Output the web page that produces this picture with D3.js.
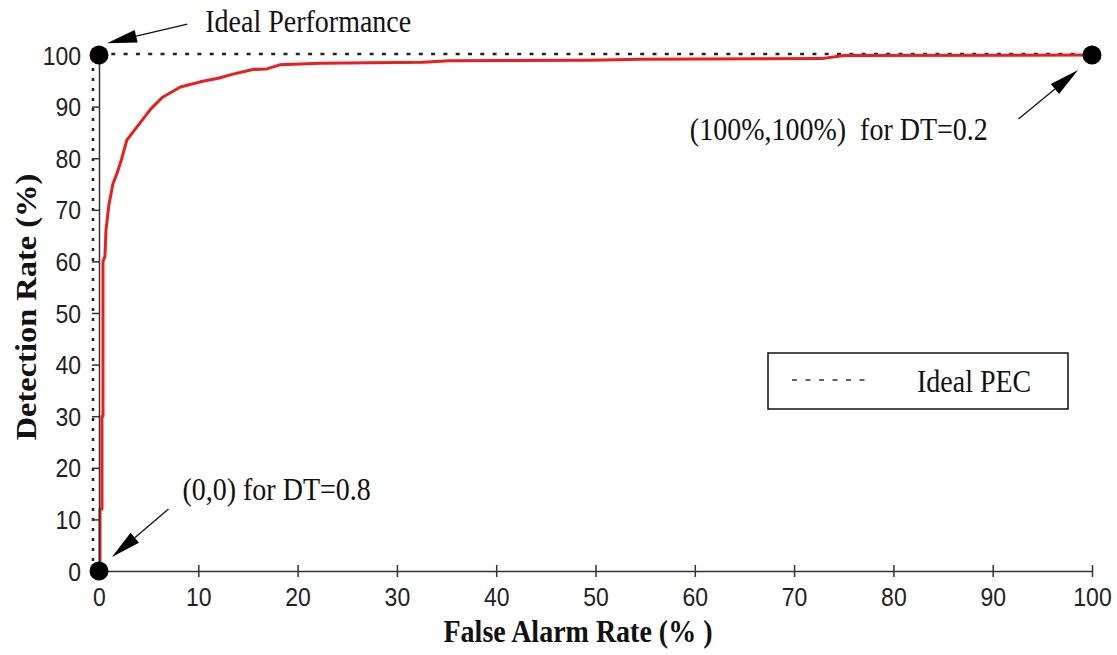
<!DOCTYPE html>
<html>
<head>
<meta charset="utf-8">
<script src="https://cdn.jsdelivr.net/npm/d3@7"></script>
<style>
body { margin: 0; background: #fff; }
</style>
</head>
<body>
<div id="canvas"></div>
<script>
"use strict"

// DATA

let falseAlarm = [0, 0.1, 0.1, 0.3, 0.3, 0.4, 0.4, 0.6, 0.7, 1.0, 1.4, 1.8, 2.3, 2.8, 4.0, 5.2, 6.4, 8.2, 10.2, 12, 13.5, 15.5, 16.9, 18.2, 22.3, 32.6, 35.3, 49.5, 54.5, 72.8, 75, 100];
let detection  = [0, 1, 12, 12, 30, 30, 60, 61, 66, 71, 75, 77, 80, 83.5, 86.5, 89.5, 91.8, 93.8, 94.8, 95.5, 96.3, 97.2, 97.3, 98.1, 98.4, 98.6, 98.9, 99.0, 99.2, 99.3, 99.9, 100];

let idealX = [0, 0, 100];
let idealY = [0, 100, 100];

let pointX = [0, 0, 100];
let pointY = [0, 100, 100];

let xTicks = [0, 10, 20, 30, 40, 50, 60, 70, 80, 90, 100];
let yTicks = [0, 10, 20, 30, 40, 50, 60, 70, 80, 90, 100];

let noteText = ["Ideal Performance", "(100%,100%)  for DT=0.2", "(0,0) for DT=0.8"];
// text anchor and arrow (from -> tip), in data units
let noteAt   = [[10.7, 104.5], [59.5, 83.5], [8.4, 13.8]];
let noteFrom = [[8.9, 106.0], [92.6, 87.6], [7.0, 12.0]];
let noteTip  = [[0.8, 102.3], [98.6, 97.1], [1.3, 2.7]];


// CONFIGURATION

let svgWidth = 1117;
let svgHeight = 655;
let serif = "'Liberation Serif', 'Times New Roman', serif";
let sans = "'Liberation Sans', Arial, sans-serif";
let stretch = 1.12;   // source picture is a bit taller than wide

let svg = d3.select("#canvas")
    .append("svg")
    .attr("width", svgWidth)
    .attr("height", svgHeight);

let xScale = d3.scaleLinear().domain([0, 100]).range([99, 1092]);
let yScale = d3.scaleLinear().domain([0, 100]).range([571, 55]);


// IDEAL PEC (dotted)

svg.append("line")
    .attr("x1", xScale(idealX[0]) - 6)
    .attr("x2", xScale(idealX[1]) - 6)
    .attr("y1", yScale(idealY[0]))
    .attr("y2", yScale(idealY[1]))
    .attr("stroke", "#222")
    .attr("stroke-width", 2.5)
    .attr("stroke-dasharray", "3,7");

svg.append("line")
    .attr("x1", xScale(idealX[1]))
    .attr("x2", xScale(idealX[2]))
    .attr("y1", yScale(idealY[1]) - 1)
    .attr("y2", yScale(idealY[2]) - 1)
    .attr("stroke", "#222")
    .attr("stroke-width", 2.5)
    .attr("stroke-dasharray", "4,8.3");


// ROC CURVE

let rocData = falseAlarm.map(function(f, i) { return { x: f, y: detection[i] }; });

let line = d3.line()
    .x(function(d) { return xScale(d.x); })
    .y(function(d) { return yScale(d.y); });

svg.append("path")
    .datum(rocData)
    .attr("fill", "none")
    .attr("stroke", "#ee1c1c")
    .attr("stroke-width", 3)
    .attr("stroke-linejoin", "round")
    .attr("d", line);


// AXES

let xAxis = svg.append("g")
    .attr("transform", "translate(0," + yScale(0) + ")")
    .call(d3.axisBottom(xScale).tickValues(xTicks).tickSize(6).tickSizeOuter(0).tickPadding(10));

xAxis.selectAll(".tick line").attr("y1", -6).attr("y2", 6);

let yAxis = svg.append("g")
    .attr("transform", "translate(" + xScale(0) + ",0)")
    .call(d3.axisLeft(yScale).tickValues(yTicks).tickSize(7).tickSizeOuter(0).tickPadding(10));

svg.selectAll(".domain, .tick line")
    .attr("stroke", "#333")
    .attr("stroke-width", 1.5);

svg.selectAll(".tick text")
    .attr("fill", "#222")
    .style("font-family", sans)
    .style("font-size", "23px");

xAxis.selectAll(".tick text")
    .attr("y", null)
    .attr("dy", null)
    .attr("transform", "translate(0,35) scale(1," + stretch + ")");

yAxis.selectAll(".tick text")
    .attr("x", null)
    .attr("dy", null)
    .attr("transform", "translate(-18,9) scale(1," + stretch + ")");


// END POINTS

svg.selectAll("circle.endPoint")
    .data(pointX.map(function(px, i) { return { x: px, y: pointY[i] }; }))
    .join("circle")
    .attr("class", "endPoint")
    .attr("cx", function(d) { return xScale(d.x); })
    .attr("cy", function(d) { return yScale(d.y); })
    .attr("r", 9.5)
    .attr("fill", "black");


// ANNOTATIONS

noteText.forEach(function(t, i) {
    svg.append("text")
        .attr("transform", "translate(" + xScale(noteAt[i][0]) + "," + yScale(noteAt[i][1]) + ") scale(1," + stretch + ")")
        .attr("xml:space", "preserve")
        .style("white-space", "pre")
        .style("font-family", serif)
        .style("font-size", "28px")
        .attr("fill", "#111")
        .text(t);

    let x0 = xScale(noteFrom[i][0]), y0 = yScale(noteFrom[i][1]);
    let x1 = xScale(noteTip[i][0]), y1 = yScale(noteTip[i][1]);
    let len = Math.hypot(x1 - x0, y1 - y0);
    let ux = (x1 - x0) / len, uy = (y1 - y0) / len;
    let headLen = 30, headW = 6.5;
    let bx = x1 - ux * headLen, by = y1 - uy * headLen;

    svg.append("line")
        .attr("x1", x0).attr("y1", y0)
        .attr("x2", bx).attr("y2", by)
        .attr("stroke", "#111")
        .attr("stroke-width", 1.3);

    svg.append("polygon")
        .attr("points", [
            [x1, y1],
            [bx - uy * headW, by + ux * headW],
            [bx + uy * headW, by - ux * headW]
        ].map(function(p) { return p.join(","); }).join(" "))
        .attr("fill", "#000");
});


// LEGEND

svg.append("rect")
    .attr("x", 768)
    .attr("y", 353)
    .attr("width", 300)
    .attr("height", 56)
    .attr("fill", "white")
    .attr("stroke", "#111")
    .attr("stroke-width", 1.5);

svg.append("line")
    .attr("x1", 792)
    .attr("x2", 866)
    .attr("y1", 380)
    .attr("y2", 380)
    .attr("stroke", "#333")
    .attr("stroke-width", 1.5)
    .attr("stroke-dasharray", "5,8.5");

svg.append("text")
    .attr("transform", "translate(917,392) scale(1," + stretch + ")")
    .style("font-family", serif)
    .style("font-size", "28px")
    .attr("fill", "#111")
    .text("Ideal PEC");


// AXIS LABELS

svg.append("text")
    .attr("transform", "translate(578,642) scale(1," + stretch + ")")
    .attr("text-anchor", "middle")
    .attr("xml:space", "preserve")
    .style("white-space", "pre")
    .style("font-family", serif)
    .style("font-weight", "bold")
    .style("font-size", "28px")
    .attr("fill", "#111")
    .text("False Alarm Rate (% )");

svg.append("text")
    .attr("transform", "translate(36,307) scale(1," + stretch + ") rotate(-90)")
    .attr("text-anchor", "middle")
    .style("font-family", serif)
    .style("font-weight", "bold")
    .style("font-size", "29px")
    .attr("fill", "#111")
    .text("Detection Rate (%)");
</script>
</body>
</html>
